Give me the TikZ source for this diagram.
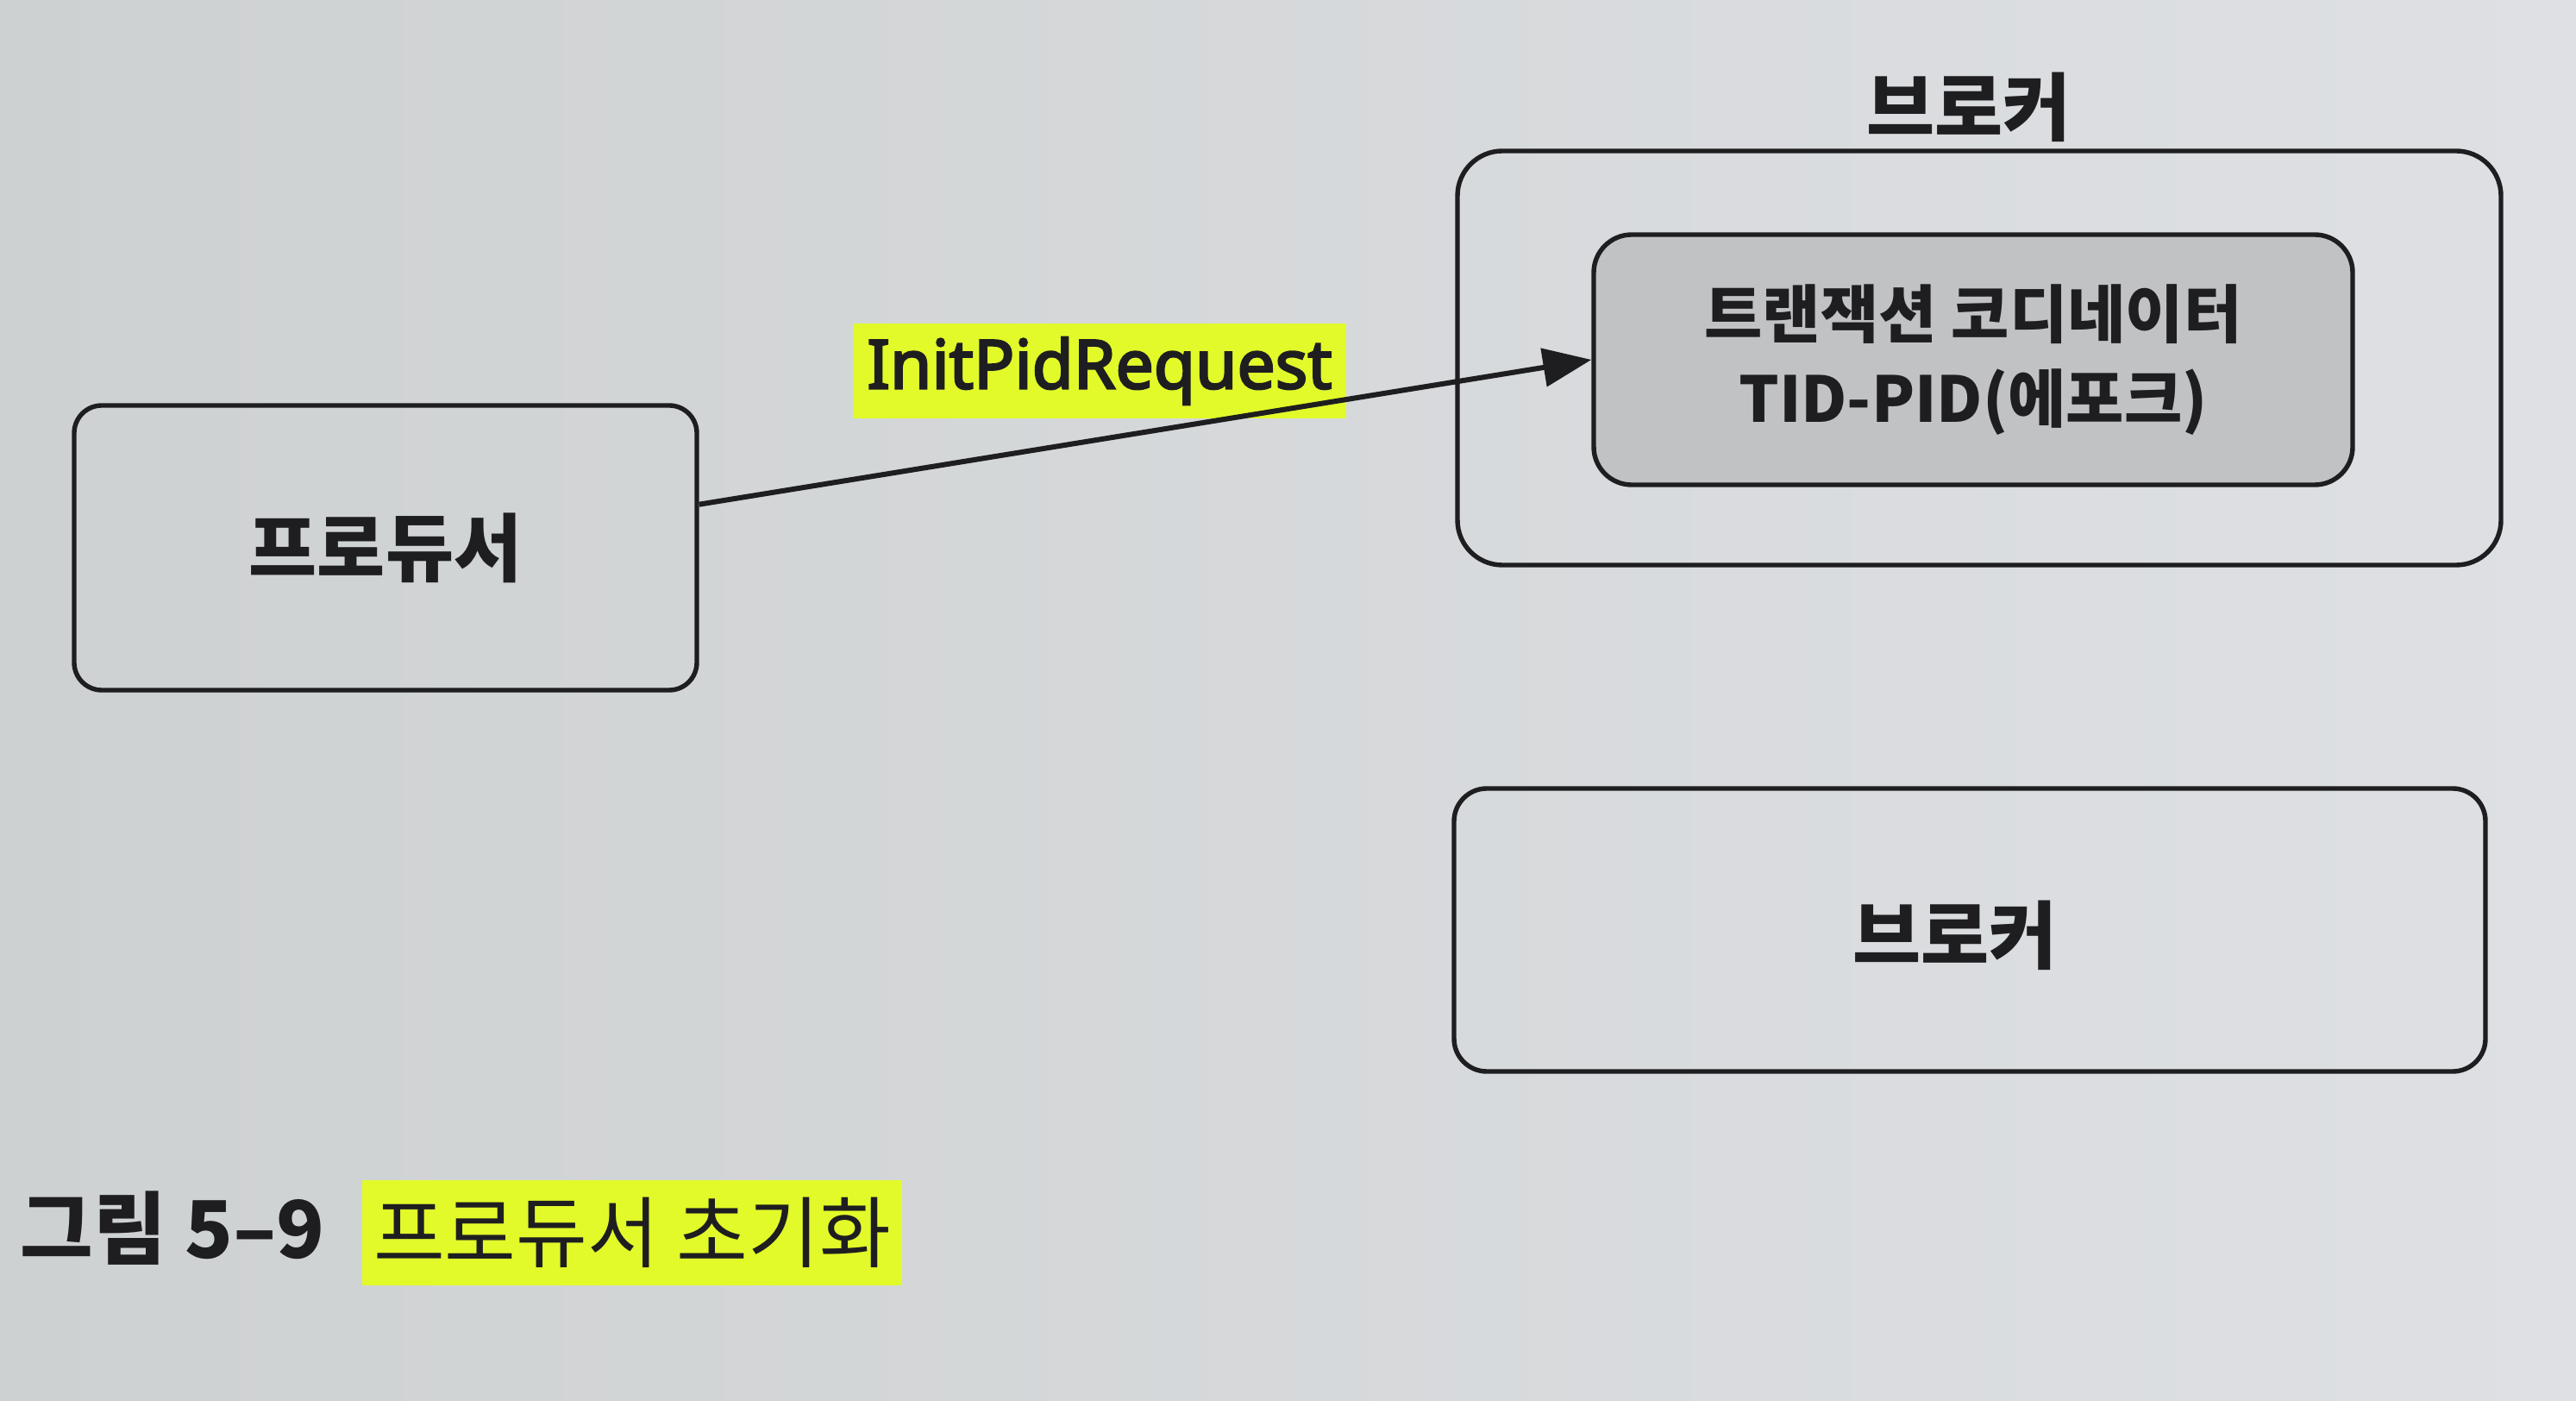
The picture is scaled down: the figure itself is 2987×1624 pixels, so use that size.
\documentclass[tikz,border=0pt]{standalone}
\usepackage{fontspec}
\newfontfamily\kr{Noto Sans CJK KR}
\newfontfamily\lat[FakeBold=3.2]{Noto Sans}
\usetikzlibrary{arrows.meta,calc}
\definecolor{paperL}{RGB}{206,209,209}
\definecolor{paperR}{RGB}{222,224,228}
\definecolor{ink}{RGB}{30,30,32}
\definecolor{innerfill}{RGB}{192,194,195}
\definecolor{hl}{RGB}{226,250,42}
\tikzset{
  box/.style={draw=ink, line width=1.35pt, inner sep=0pt, text=ink},
  krtext/.style={font=\kr\bfseries\fontsize{21.5pt}{24pt}\selectfont, text=ink},
  arrowline/.style={draw=ink, line width=1.5pt, -{Triangle[length=14pt,width=11pt]}},
}
\begin{document}
\begin{tikzpicture}[x=0.25pt,y=-0.25pt]
\useasboundingbox (0,0) rectangle (2987,1624);
\shade[left color=paperL, right color=paperR] (0,0) rectangle (2987,1624);

% producer
\node[box, rounded corners=8pt, minimum width=180.5pt, minimum height=82.5pt, krtext] (prod) at (447,635) {프로듀서};

% broker (outer) with title
\node[box, rounded corners=13pt, minimum width=302.5pt, minimum height=120pt] (broker) at (2295,415) {};
\node[krtext, inner sep=0pt] (brokertitle) at (2283,124) {브로커};

% transaction coordinator
\node[box, rounded corners=11pt, fill=innerfill, minimum width=220pt, minimum height=72.5pt,
      font=\kr\bfseries\fontsize{18.3pt}{24.5pt}\selectfont, align=center] (coord) at (2288,417)
      {트랜잭션 코디네이터\\TID-PID(에포크)};

% lower broker
\node[box, rounded corners=9.5pt, minimum width=299pt, minimum height=82pt] (broker2) at (2284,1078) {};
\node[krtext, inner sep=0pt] (broker2text) at (2267,1084) {브로커};

% arrow label (highlighted)
\node[fill=hl, inner xsep=4pt, inner ysep=4pt, font=\lat\fontsize{19.6pt}{24pt}\selectfont, text=ink] (lbl) at (1275,430) {InitPidRequest};

% arrow
\coordinate (start) at ($(prod.north east)!0.35!(prod.south east)$);
\draw[arrowline] (start) -- (coord.west);

% caption
\node[anchor=west, inner sep=0pt, font=\kr\bfseries\fontsize{23pt}{24pt}\selectfont, text=ink] (capnum) at (23,1424) {그림 5–9};
\node[fill=hl, inner xsep=3.4pt, inner ysep=5pt, font=\kr\fontsize{22.5pt}{24pt}\selectfont, text=ink] (captext) at (733,1429) {프로듀서 초기화};
\end{tikzpicture}
\end{document}
